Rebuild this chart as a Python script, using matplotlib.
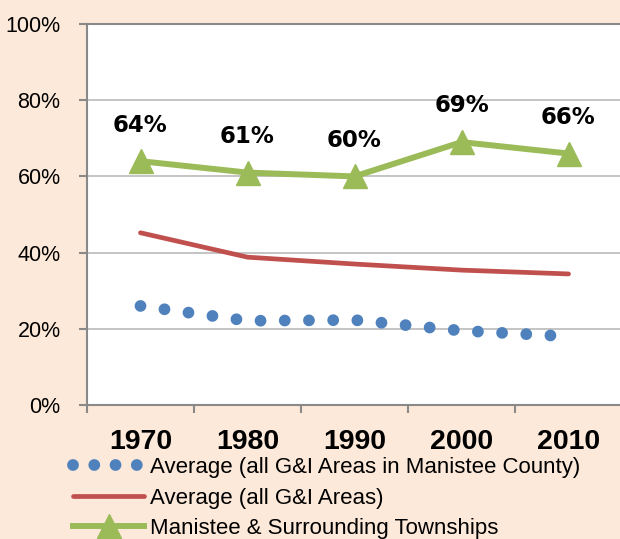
import numpy as np
import matplotlib.pyplot as plt
from matplotlib.lines import Line2D
from matplotlib.ticker import FuncFormatter

years = ["1970", "1980", "1990", "2000", "2010"]
county_avg = [26.0, 22.1, 22.3, 19.5, 18.0]
all_avg = [45.2, 38.8, 37.0, 35.4, 34.4]
manistee = [64, 61, 60, 69, 66]
labels_manistee = ["64%", "61%", "60%", "69%", "66%"]

bg = "#FDE9D9"
sans = ["Liberation Sans", "DejaVu Sans"]
blue, red, green = "#4F81BD", "#C0504D", "#9BBB59"

fig = plt.figure(figsize=(6.2, 5.39), dpi=100, facecolor=bg)
ax = fig.add_axes([87 / 620, 134 / 539, 535 / 620, 381 / 539])
ax.set_facecolor("white")

x = np.arange(len(years))

ax.plot(x, county_avg, color=blue, lw=8.5, linestyle=(0, (0.001, 2.05)),
        dash_capstyle="round")
l2, = ax.plot(x, all_avg, color=red, lw=3.4, solid_capstyle="round",
              label="Average (all G&I Areas)")
l3, = ax.plot(x, manistee, color=green, lw=4.3, marker="^", markersize=17,
              label="Manistee & Surrounding Townships")

# legend proxy so the dotted handle shows four dots like the original
l1 = Line2D([], [], color=blue, lw=8.5, linestyle=(0, (0.001, 1.8)),
            dash_capstyle="round", label="Average (all G&I Areas in Manistee County)")

for xi, yi, t in zip(x, manistee, labels_manistee):
    ax.annotate(t, (xi, yi), xytext=(0, 26), textcoords="offset points",
                ha="center", va="center", fontsize=16.5, fontweight="bold",
                family="DejaVu Sans")

ax.set_xlim(-0.5, 4.5)
ax.set_ylim(0, 100)
ax.set_yticks([0, 20, 40, 60, 80, 100])
ax.yaxis.set_major_formatter(FuncFormatter(lambda v, p: f"{v:.0f}%"))
ax.set_xticks(x)
ax.set_xticklabels(years, fontweight="bold", fontsize=20.5, family=sans)
ax.set_xticks(np.arange(-0.5, 5, 1), minor=True)
ax.tick_params(axis="x", which="major", length=0, pad=17)
ax.tick_params(axis="x", which="minor", length=6, width=1.5, color="#898989", direction="out")
ax.tick_params(axis="y", length=6, width=1.5, color="#898989", pad=13, labelsize=15.5)
for lab in ax.get_yticklabels():
    lab.set_family(sans)

ax.grid(axis="y", color="#BFBFBF", lw=1.3)
ax.set_axisbelow(True)
for s in ["left", "bottom", "top"]:
    ax.spines[s].set_color("#898989")
    ax.spines[s].set_linewidth(1.5)
ax.spines["right"].set_visible(False)

leg = fig.legend(handles=[l1, l2, l3], loc="upper left",
                 bbox_to_anchor=(73 / 620, 1 - 457 / 539),
                 frameon=False, prop={"family": sans, "size": 16},
                 handlelength=3.2, handletextpad=0.25, labelspacing=0.43,
                 borderaxespad=0, borderpad=0)

fig.savefig("out.png", dpi=100, facecolor=bg)
